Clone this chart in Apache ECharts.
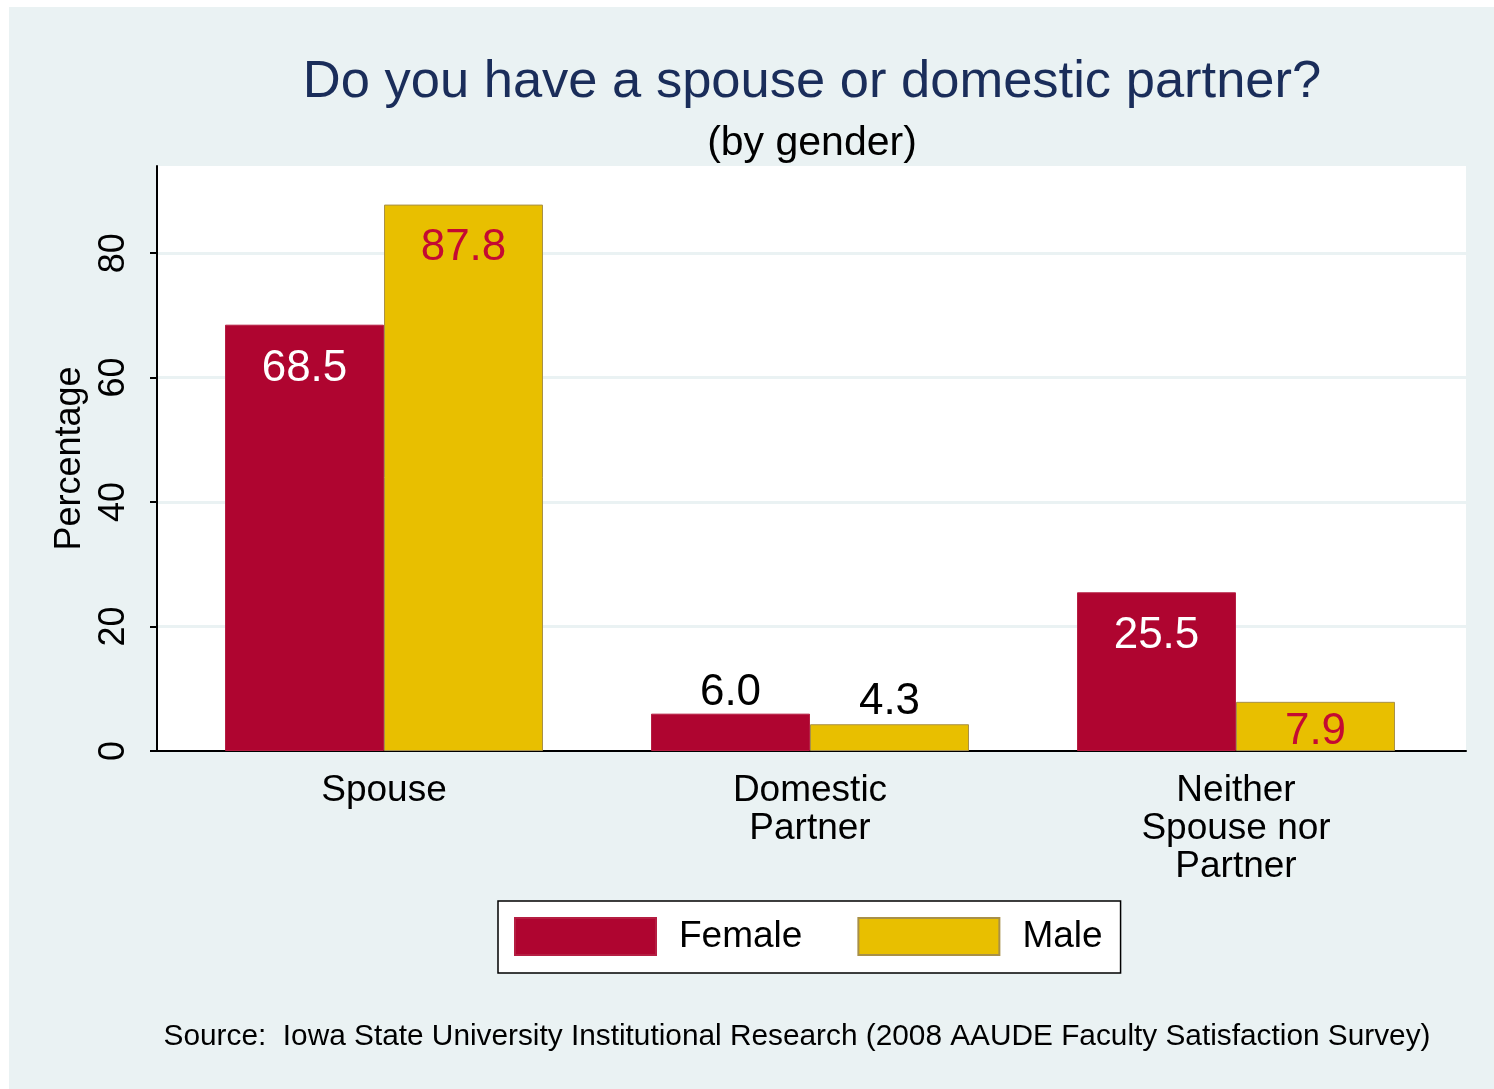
<!DOCTYPE html>
<html>
<head>
<meta charset="utf-8">
<script src="https://cdn.jsdelivr.net/npm/echarts@6/dist/echarts.min.js"></script>
<style>
  html, body { margin: 0; padding: 0; background: #fff; }
  #wrap { position: relative; width: 1494px; height: 1089px; background: #fff; }
  #main { position: absolute; left: 9px; top: 7px; width: 1485px; height: 1082px; }
</style>
</head>
<body>
<div id="wrap"><div id="main"></div></div>
<script>
const categories = ['Spouse', 'Domestic\nPartner', 'Neither\nSpouse nor\nPartner'];
const seriesNames = ['Female', 'Male'];
const female = [68.5, 6.0, 25.5];
const male = [87.8, 4.3, 7.9];
const yMin = 0, yMax = 94, yStep = 20;
const yTicks = [0, 20, 40, 60, 80];

const FONT = "'Liberation Sans', Arial, sans-serif";
const RED = '#AF0530';
const GOLD = '#E8BF00';
const BG = '#EAF2F3';

// where Stata put each bar label (inside near the top, above the bar, or centred)
const femaleLabel = [
  { position: 'insideTop', distance: 22, color: '#fff' },
  { position: 'top', distance: -1, color: '#000' },
  { position: 'insideTop', distance: 22, color: '#fff' }
];
const maleLabel = [
  { position: 'insideTop', distance: 21, color: '#C40A32' },
  { position: 'top', distance: 0, color: '#000' },
  { position: 'inside', distance: 0, offset: [0, 5], color: '#C40A32' }
];

function buildData(values, labels) {
  return values.map((v, i) => ({
    value: v,
    label: {
      show: true,
      position: labels[i].position,
      distance: labels[i].distance,
      offset: labels[i].offset || [0, 0],
      color: labels[i].color,
      fontSize: 44,
      fontFamily: FONT,
      formatter: (p) => p.value.toFixed(1)
    }
  }));
}

const chart = echarts.init(document.getElementById('main'));

const option = {
  backgroundColor: BG,
  animation: false,
  title: [
    {
      text: 'Do you have a spouse or domestic partner?',
      left: 798, top: 44, textAlign: 'center',
      textStyle: { fontFamily: FONT, fontSize: 52.5, fontWeight: 'normal', color: '#1A2D5A' }
    },
    {
      text: '(by gender)',
      left: 798, top: 111, textAlign: 'center',
      textStyle: { fontFamily: FONT, fontSize: 41, fontWeight: 'normal', color: '#000' }
    },
    {
      text: 'Source:  Iowa State University Institutional Research (2008 AAUDE Faculty Satisfaction Survey)',
      left: 783, top: 1010, textAlign: 'center',
      textStyle: { fontFamily: FONT, fontSize: 29.8, fontWeight: 'normal', color: '#000' }
    }
  ],
  legend: {
    data: seriesNames,
    left: 489, top: 894,
    orient: 'horizontal',
    backgroundColor: '#fff',
    borderColor: '#000',
    borderWidth: 1.5,
    borderRadius: 0,
    padding: [16, 18, 17, 16],
    itemWidth: 141,
    itemHeight: 37,
    itemGap: 55,
    icon: 'rect',
    textStyle: { fontFamily: FONT, fontSize: 37, color: '#000', padding: [5, 0, 0, 18] }
  },
  grid: [
    { left: 148, top: 159, width: 1309, height: 585, show: true, backgroundColor: '#fff', borderWidth: 0 },
    { left: 162, top: 159, width: 1278, height: 585 }
  ],
  xAxis: [
    {
      gridIndex: 0, type: 'category', data: categories,
      axisLine: { show: true, lineStyle: { color: '#000', width: 2 } },
      axisTick: { show: false }, axisLabel: { show: false }, splitLine: { show: false }
    },
    {
      gridIndex: 1, type: 'category', data: categories,
      axisLine: { show: false }, axisTick: { show: false },
      axisLabel: { fontFamily: FONT, fontSize: 37, color: '#000', lineHeight: 38, margin: 21, interval: 0 }
    }
  ],
  yAxis: [
    {
      gridIndex: 0, type: 'value', min: yMin, max: yMax, interval: yStep,
      name: 'Percentage', nameLocation: 'middle', nameGap: 66, nameRotate: 90,
      nameTextStyle: { fontFamily: FONT, fontSize: 36, color: '#000' },
      axisLine: { show: true, lineStyle: { color: '#000', width: 2 } },
      axisTick: { show: true, length: 7, customValues: yTicks, lineStyle: { color: '#000', width: 2 } },
      axisLabel: { rotate: 90, margin: 25, customValues: yTicks, fontFamily: FONT, fontSize: 36, color: '#000' },
      splitLine: { show: true, lineStyle: { color: BG, width: 3 } }
    },
    {
      gridIndex: 1, type: 'value', min: yMin, max: yMax, interval: yStep,
      show: false, splitLine: { show: false }
    }
  ],
  series: [
    {
      name: seriesNames[0], type: 'bar', xAxisIndex: 1, yAxisIndex: 1,
      barWidth: 159, barGap: '0%',
      itemStyle: { color: RED, borderColor: '#B51E42', borderWidth: 1 },
      data: buildData(female, femaleLabel)
    },
    {
      name: seriesNames[1], type: 'bar', xAxisIndex: 1, yAxisIndex: 1,
      barWidth: 159, barGap: '0%',
      itemStyle: { color: GOLD, borderColor: '#A89048', borderWidth: 1 },
      data: buildData(male, maleLabel)
    }
  ]
};

chart.setOption(option);
</script>
</body>
</html>
